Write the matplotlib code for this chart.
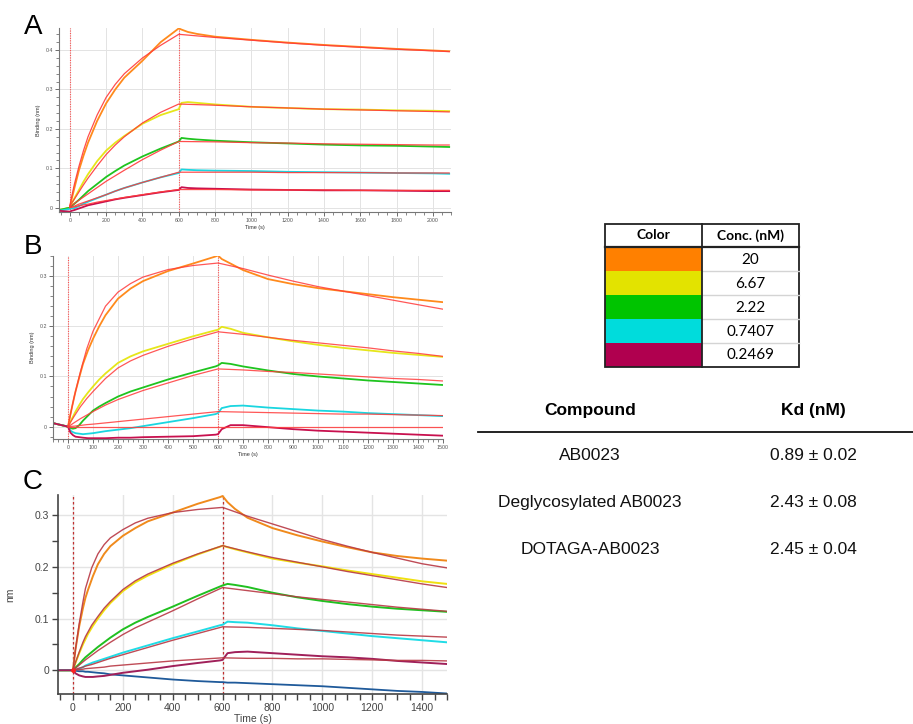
import matplotlib
matplotlib.use("Agg")
import matplotlib.pyplot as plt
from matplotlib.patches import Rectangle
from matplotlib.ticker import MultipleLocator

plt.rcParams['font.family'] = ['Liberation Sans', 'DejaVu Sans']

# ----------------------------------
# Legend / summary tables
# ----------------------------------
conc_labels = ["20", "6.67", "2.22", "0.7407", "0.2469"]
conc_colors = ["#ff8000", "#e3e300", "#00c400", "#00dcdc", "#b0004f"]

compounds = ["AB0023", "Deglycosylated AB0023", "DOTAGA-AB0023"]
kd_values = ["0.89 ± 0.02", "2.43 ± 0.08", "2.45 ± 0.04"]

# ----------------------------------
# Panel A  (binding, nm)
# ----------------------------------
t_a_obs = [-60, 0, 10, 25, 50, 75, 100, 150, 200, 250, 300, 400, 500, 600, 615, 650, 700,
           800, 1000, 1200, 1400, 1600, 1800, 2000, 2090]
a_orange = [-0.008, 0.0, 0.022, 0.05, 0.095, 0.132, 0.165, 0.22, 0.265, 0.3, 0.33, 0.373, 0.42,
            0.455, 0.452, 0.446, 0.441, 0.434, 0.426, 0.419, 0.413, 0.408, 0.403, 0.399, 0.397]
a_yellow = [-0.006, 0.0, 0.01, 0.024, 0.045, 0.066, 0.085, 0.118, 0.145, 0.165, 0.182, 0.213, 0.235,
            0.25, 0.266, 0.268, 0.266, 0.262, 0.256, 0.253, 0.25, 0.249, 0.247, 0.246, 0.245]
a_green = [-0.006, 0.0, 0.004, 0.01, 0.02, 0.031, 0.042, 0.06, 0.078, 0.093, 0.107, 0.13, 0.15,
           0.168, 0.177, 0.175, 0.173, 0.17, 0.166, 0.163, 0.16, 0.158, 0.157, 0.155, 0.154]
a_cyan = [-0.008, -0.003, -0.002, -0.001, 0.004, 0.01, 0.015, 0.024, 0.033, 0.042, 0.05, 0.064, 0.077,
          0.088, 0.097, 0.096, 0.095, 0.094, 0.093, 0.091, 0.09, 0.089, 0.088, 0.087, 0.086]
a_magenta = [-0.008, -0.01, -0.008, -0.006, -0.002, 0.002, 0.006, 0.011, 0.016, 0.021, 0.025, 0.032,
             0.039, 0.045, 0.052, 0.05, 0.049, 0.048, 0.046, 0.045, 0.044, 0.044, 0.043, 0.042, 0.042]

t_a_fit = [0, 10, 25, 50, 75, 100, 150, 200, 250, 300, 400, 500, 600,
           800, 1000, 1200, 1400, 1600, 1800, 2000, 2090]
a_orange_fit = [0.005, 0.028, 0.06, 0.105, 0.145, 0.18, 0.235, 0.28, 0.313, 0.34, 0.38, 0.412, 0.44,
                0.432, 0.425, 0.418, 0.412, 0.407, 0.402, 0.398, 0.396]
a_yellow_fit = [0.005, 0.012, 0.022, 0.04, 0.058, 0.075, 0.106, 0.135, 0.159, 0.18, 0.215, 0.242, 0.263,
                0.26, 0.256, 0.253, 0.25, 0.248, 0.246, 0.244, 0.243]
a_green_fit = [0.003, 0.006, 0.011, 0.019, 0.027, 0.035, 0.051, 0.067, 0.081, 0.095, 0.122, 0.146, 0.168,
               0.167, 0.165, 0.164, 0.162, 0.161, 0.16, 0.159, 0.159]
a_cyan_fit = [0.0, 0.002, 0.004, 0.009, 0.013, 0.017, 0.025, 0.033, 0.042, 0.05, 0.064, 0.077, 0.09,
              0.09, 0.09, 0.089, 0.089, 0.089, 0.088, 0.088, 0.088]
a_magenta_fit = [0.0, 0.001, 0.002, 0.005, 0.007, 0.009, 0.014, 0.018, 0.022, 0.026, 0.033, 0.04, 0.046,
                 0.046, 0.045, 0.045, 0.045, 0.044, 0.044, 0.044, 0.044]

# ----------------------------------
# Panel B
# ----------------------------------
t_b_obs = [-60, 0, 10, 20, 30, 45, 60, 80, 100, 125, 150, 200, 250, 300, 400, 500, 590, 600,
           615, 650, 700, 800, 900, 1000, 1100, 1200, 1300, 1400, 1500]
b_orange = [0.007, 0.0, 0.025, 0.048, 0.07, 0.098, 0.125, 0.152, 0.175, 0.2, 0.222, 0.255, 0.275,
            0.29, 0.31, 0.325, 0.339, 0.341, 0.334, 0.325, 0.312, 0.294, 0.284, 0.276, 0.27,
            0.264, 0.258, 0.253, 0.248]
b_yellow = [0.007, 0.0, 0.01, 0.02, 0.03, 0.043, 0.055, 0.068, 0.08, 0.094, 0.106, 0.127, 0.14,
            0.15, 0.165, 0.18, 0.192, 0.193, 0.199, 0.195, 0.187, 0.178, 0.17, 0.163, 0.157,
            0.152, 0.147, 0.143, 0.139]
b_green = [0.007, 0.0, -0.003, -0.004, -0.003, 0.003, 0.012, 0.022, 0.032, 0.04, 0.047, 0.06, 0.07,
           0.078, 0.094, 0.108, 0.12, 0.122, 0.127, 0.125, 0.12, 0.112, 0.105, 0.1, 0.096,
           0.092, 0.089, 0.086, 0.083]
b_cyan = [0.007, 0.0, -0.008, -0.011, -0.013, -0.014, -0.015, -0.014, -0.013, -0.011, -0.009, -0.006,
          -0.003, 0.001, 0.009, 0.017, 0.025, 0.027, 0.037, 0.041, 0.042, 0.038, 0.035, 0.032,
          0.03, 0.027, 0.025, 0.023, 0.021]
b_magenta = [0.007, 0.0, -0.012, -0.017, -0.02, -0.021, -0.022, -0.023, -0.023, -0.023, -0.023,
             -0.022, -0.022, -0.021, -0.02, -0.019, -0.016, -0.015, -0.005, 0.003, 0.003, -0.001,
             -0.005, -0.008, -0.01, -0.012, -0.014, -0.016, -0.018]

t_b_fit = [0, 10, 25, 50, 75, 100, 150, 200, 250, 300, 400, 500, 600,
           700, 800, 900, 1000, 1100, 1200, 1300, 1400, 1500]
b_orange_fit = [0.0, 0.025, 0.06, 0.11, 0.155, 0.19, 0.24, 0.268, 0.285, 0.298, 0.313, 0.321, 0.326,
                0.315, 0.302, 0.29, 0.279, 0.27, 0.261, 0.252, 0.243, 0.234]
b_yellow_fit = [0.0, 0.009, 0.021, 0.04, 0.056, 0.07, 0.096, 0.117, 0.131, 0.142, 0.16, 0.175, 0.189,
                0.184, 0.178, 0.172, 0.167, 0.162, 0.157, 0.151, 0.146, 0.14]
b_green_fit = [0.0, 0.003, 0.008, 0.016, 0.023, 0.03, 0.043, 0.054, 0.063, 0.072, 0.087, 0.102, 0.115,
               0.113, 0.11, 0.108, 0.105, 0.102, 0.099, 0.096, 0.094, 0.091]
b_cyan_fit = [0.0, 0.0005, 0.001, 0.0025, 0.004, 0.005, 0.0075, 0.01, 0.0125, 0.015, 0.02, 0.025, 0.03,
              0.029, 0.028, 0.027, 0.026, 0.025, 0.025, 0.024, 0.023, 0.022]
b_magenta_fit = [0.0, 0.0, 0.0, 0.0, 0.0, 0.0, 0.0, 0.0, 0.0, 0.0, 0.0, 0.0, 0.0,
                 0.0, 0.0, 0.0, 0.0, 0.0, 0.0, 0.0, 0.0, 0.0]

# ----------------------------------
# Panel C
# ----------------------------------
t_c_obs = [-60, 0, 10, 25, 40, 50, 60, 80, 100, 125, 150, 200, 250, 300, 400, 500, 590, 600,
           620, 650, 700, 800, 900, 1000, 1100, 1200, 1300, 1400, 1500]
c_orange = [0.0, 0.0, 0.04, 0.085, 0.12, 0.14, 0.155, 0.182, 0.205, 0.225, 0.24, 0.26, 0.275, 0.288,
            0.305, 0.322, 0.335, 0.337, 0.325, 0.312, 0.295, 0.275, 0.261, 0.249, 0.238, 0.228,
            0.221, 0.216, 0.212]
c_yellow = [0.0, 0.0, 0.014, 0.033, 0.05, 0.06, 0.07, 0.086, 0.1, 0.116, 0.13, 0.153, 0.17, 0.183,
            0.205, 0.224, 0.239, 0.241, 0.238, 0.234, 0.228, 0.216, 0.208, 0.201, 0.193, 0.186,
            0.179, 0.172, 0.167]
c_green = [0.0, 0.0, 0.005, 0.012, 0.02, 0.025, 0.029, 0.037, 0.045, 0.054, 0.063, 0.079, 0.092,
           0.103, 0.123, 0.144, 0.162, 0.164, 0.167, 0.165, 0.161, 0.15, 0.141, 0.134, 0.128,
           0.123, 0.119, 0.116, 0.113]
c_cyan = [0.0, 0.0, 0.001, 0.003, 0.006, 0.009, 0.011, 0.015, 0.018, 0.022, 0.026, 0.034, 0.041,
          0.048, 0.062, 0.075, 0.087, 0.088, 0.094, 0.093, 0.092, 0.087, 0.081, 0.076, 0.071,
          0.066, 0.062, 0.058, 0.054]
c_magenta = [0.0, 0.0, -0.006, -0.01, -0.012, -0.013, -0.013, -0.013, -0.012, -0.011, -0.009, -0.005,
             -0.002, 0.001, 0.008, 0.014, 0.019, 0.02, 0.033, 0.035, 0.036, 0.033, 0.03, 0.027,
             0.025, 0.022, 0.018, 0.015, 0.012]
c_blue = [0.0, 0.0, -0.001, -0.002, -0.002, -0.003, -0.003, -0.004, -0.005, -0.006, -0.008, -0.01,
          -0.012, -0.014, -0.018, -0.021, -0.023, -0.023, -0.024, -0.024, -0.025, -0.027, -0.029,
          -0.031, -0.034, -0.037, -0.04, -0.042, -0.045]

t_c_fit = [0, 10, 25, 40, 50, 75, 100, 125, 150, 200, 250, 300, 400, 500, 600,
           700, 800, 900, 1000, 1100, 1200, 1300, 1400, 1500]
c_orange_fit = [0.0, 0.04, 0.09, 0.132, 0.158, 0.198, 0.225, 0.243, 0.256, 0.272, 0.285, 0.294, 0.305,
                0.311, 0.315, 0.298, 0.283, 0.268, 0.253, 0.24, 0.228, 0.217, 0.206, 0.198]
c_yellow_fit = [0.0, 0.015, 0.035, 0.054, 0.065, 0.087, 0.104, 0.12, 0.133, 0.156, 0.173, 0.186, 0.207,
                0.225, 0.241, 0.229, 0.218, 0.209, 0.2, 0.191, 0.183, 0.175, 0.167, 0.16]
c_green_fit = [0.0, 0.004, 0.01, 0.016, 0.02, 0.029, 0.038, 0.046, 0.054, 0.069, 0.082, 0.093, 0.115,
               0.138, 0.16, 0.154, 0.148, 0.142, 0.137, 0.132, 0.127, 0.122, 0.118, 0.114]
c_cyan_fit = [0.0, 0.0015, 0.004, 0.006, 0.008, 0.011, 0.015, 0.019, 0.023, 0.03, 0.037, 0.044, 0.058,
              0.071, 0.084, 0.083, 0.081, 0.079, 0.077, 0.074, 0.071, 0.068, 0.066, 0.064]
c_magenta_fit = [0.0, 0.0005, 0.001, 0.002, 0.003, 0.004, 0.005, 0.006, 0.008, 0.01, 0.012, 0.014, 0.018,
                 0.021, 0.024, 0.023, 0.023, 0.022, 0.022, 0.021, 0.02, 0.019, 0.019, 0.018]

trace_colors_ab = ["#ff8a1c", "#e6e61a", "#1fc41f", "#1ad6e0", "#c8104e"]
trace_colors_c = ["#f08a1c", "#f0e010", "#20c020", "#20dce6", "#a0205a"]

W, H = 913, 724
fig = plt.figure(figsize=(W / 100, H / 100), dpi=100)


def px_axes(left, top, right, bottom):
    return fig.add_axes([left / W, 1 - bottom / H, (right - left) / W, (bottom - top) / H])


def zero_fmt(v, p):
    return "0" if abs(v) < 1e-9 else f"{v:.1f}"


def style_small(ax, xmax, xmajor, xminor, ymax, ymin):
    ax.set_xlim(-60, xmax)
    ax.set_ylim(ymin, ymax)
    for s in ["top", "right"]:
        ax.spines[s].set_visible(False)
    for s in ["left", "bottom"]:
        ax.spines[s].set_color("#777777")
        ax.spines[s].set_linewidth(0.8)
    ax.xaxis.set_major_locator(MultipleLocator(xmajor))
    ax.xaxis.set_minor_locator(MultipleLocator(xminor))
    ax.yaxis.set_major_locator(MultipleLocator(0.1))
    ax.yaxis.set_minor_locator(MultipleLocator(0.02))
    ax.tick_params(which="both", direction="out", colors="#555555", labelsize=3.8, pad=1.5)
    ax.tick_params(which="major", length=3, width=0.6)
    ax.tick_params(which="minor", length=2, width=0.5)
    ax.yaxis.set_major_formatter(plt.FuncFormatter(zero_fmt))
    ax.grid(True, which="major", color="#e3e3e3", lw=0.7)
    ax.set_axisbelow(True)
    ax.set_xlabel("Time (s)", fontsize=4, color="#333333", labelpad=1)
    ax.set_ylabel("Binding (nm)", fontsize=4, color="#333333", labelpad=3)
    ax.axvline(0, color="#ff5050", lw=0.8, ls=(0, (1, 1.2)))
    ax.axvline(600, color="#ff5050", lw=0.8, ls=(0, (1, 1.2)))


# ---- A ----
ax_a = px_axes(59, 28, 451, 212)
style_small(ax_a, 2100, 200, 50, 0.456, -0.011)
for vals, c in zip([a_orange, a_yellow, a_green, a_cyan, a_magenta], trace_colors_ab):
    ax_a.plot(t_a_obs, vals, color=c, lw=1.3)
for vals in [a_orange_fit, a_yellow_fit, a_green_fit, a_cyan_fit, a_magenta_fit]:
    ax_a.plot(t_a_fit, vals, color="#ff3a3a", lw=0.9, alpha=0.9)

# ---- B ----
ax_b = px_axes(53, 256, 443, 439)
style_small(ax_b, 1500, 100, 20, 0.34, -0.0246)
for vals, c in zip([b_orange, b_yellow, b_green, b_cyan, b_magenta], trace_colors_ab):
    ax_b.plot(t_b_obs, vals, color=c, lw=1.3)
for vals in [b_orange_fit, b_yellow_fit, b_green_fit, b_cyan_fit, b_magenta_fit]:
    ax_b.plot(t_b_fit, vals, color="#ff3a3a", lw=0.9, alpha=0.85)

# ---- C ----
ax_c = px_axes(58, 495, 447, 694)
ax_c.set_xlim(-60, 1500)
ax_c.set_ylim(-0.046, 0.339)
for s in ["top", "right"]:
    ax_c.spines[s].set_visible(False)
for s in ["left", "bottom"]:
    ax_c.spines[s].set_color("#444444")
    ax_c.spines[s].set_linewidth(1.2)
ax_c.xaxis.set_major_locator(MultipleLocator(200))
ax_c.xaxis.set_minor_locator(MultipleLocator(50))
ax_c.yaxis.set_major_locator(MultipleLocator(0.1))
ax_c.yaxis.set_minor_locator(MultipleLocator(0.05))
ax_c.tick_params(which="both", direction="out", colors="#444444", length=4.5, width=1.0,
                 labelsize=7.5, pad=2)
ax_c.yaxis.set_major_formatter(plt.FuncFormatter(zero_fmt))
ax_c.grid(True, which="major", color="#e4e4e4", lw=1.0)
ax_c.set_axisbelow(True)
ax_c.set_xlabel("Time (s)", fontsize=7.5, color="#444444", labelpad=1)
ax_c.set_ylabel("nm", fontsize=7.5, color="#444444", labelpad=14)
ax_c.axvline(0, color="#c03030", lw=0.9, ls=(0, (2, 2)))
ax_c.axvline(600, color="#c03030", lw=0.9, ls=(0, (2, 2)))
ax_c.plot(t_c_obs, c_blue, color="#1f5a9a", lw=1.3)
for vals, c in zip([c_orange, c_yellow, c_green, c_cyan, c_magenta], trace_colors_c):
    ax_c.plot(t_c_obs, vals, color=c, lw=1.4)
for vals in [c_orange_fit, c_yellow_fit, c_green_fit, c_cyan_fit, c_magenta_fit]:
    ax_c.plot(t_c_fit, vals, color="#b83844", lw=1.0, alpha=0.9)
ax_c.plot([0], [0], "o", color="#ff2020", ms=2.5)

# panel letters
for letter, (x, y) in zip("ABC", [(33, 27), (33, 247), (33, 482)]):
    fig.text(x / W, 1 - y / H, letter, fontsize=20, ha="center", va="center")

# ----------------------------------
# Right-hand tables
# ----------------------------------
tab = fig.add_axes([0, 0, 1, 1])
tab.set_xlim(0, W)
tab.set_ylim(H, 0)
tab.axis("off")
tab.patch.set_alpha(0)

x0, x1, x2 = 605, 702, 799
y0, rh = 223.5, 23.9
tfont = ["Lato", "DejaVu Sans"]
tab.text((x0 + x1) / 2, y0 + rh / 2, "Color", ha="center", va="center", fontsize=10,
         fontweight="bold", family=tfont)
tab.text((x1 + x2) / 2, y0 + rh / 2, "Conc. (nM)", ha="center", va="center", fontsize=10,
         fontweight="bold", family=tfont)
for i, (lab, col) in enumerate(zip(conc_labels, conc_colors)):
    yt = y0 + rh * (i + 1)
    tab.add_patch(Rectangle((x0, yt), x1 - x0, rh, facecolor=col, edgecolor="none"))
    tab.text((x1 + x2) / 2, yt + rh / 2 + 0.5, lab, ha="center", va="center", fontsize=11,
             family=tfont)
    if i > 0:
        tab.plot([x1, x2], [yt, yt], color="#d4d4d4", lw=1.0)
ybot = y0 + rh * 6
tab.add_patch(Rectangle((x0, y0), x2 - x0, ybot - y0, facecolor="none", edgecolor="#222222", lw=1.3))
tab.plot([x1, x1], [y0, ybot], color="#222222", lw=1.3)
tab.plot([x0, x2], [y0 + rh, y0 + rh], color="#222222", lw=1.6)

# Kd table
cx1, cx2 = 590, 813
tab.text(cx1, 410, "Compound", ha="center", va="center", fontsize=12.5, fontweight="bold")
tab.text(cx2, 410, "Kd (nM)", ha="center", va="center", fontsize=12.5, fontweight="bold")
tab.plot([478, 913], [431.5, 431.5], color="#111111", lw=1.3)
for i, (name, kd) in enumerate(zip(compounds, kd_values)):
    yr = 455.5 + 47 * i
    tab.text(cx1, yr, name, ha="center", va="center", fontsize=12.5, color="#111111")
    tab.text(cx2, yr, kd, ha="center", va="center", fontsize=12.5, color="#111111")

fig.savefig("out.png", dpi=100)
